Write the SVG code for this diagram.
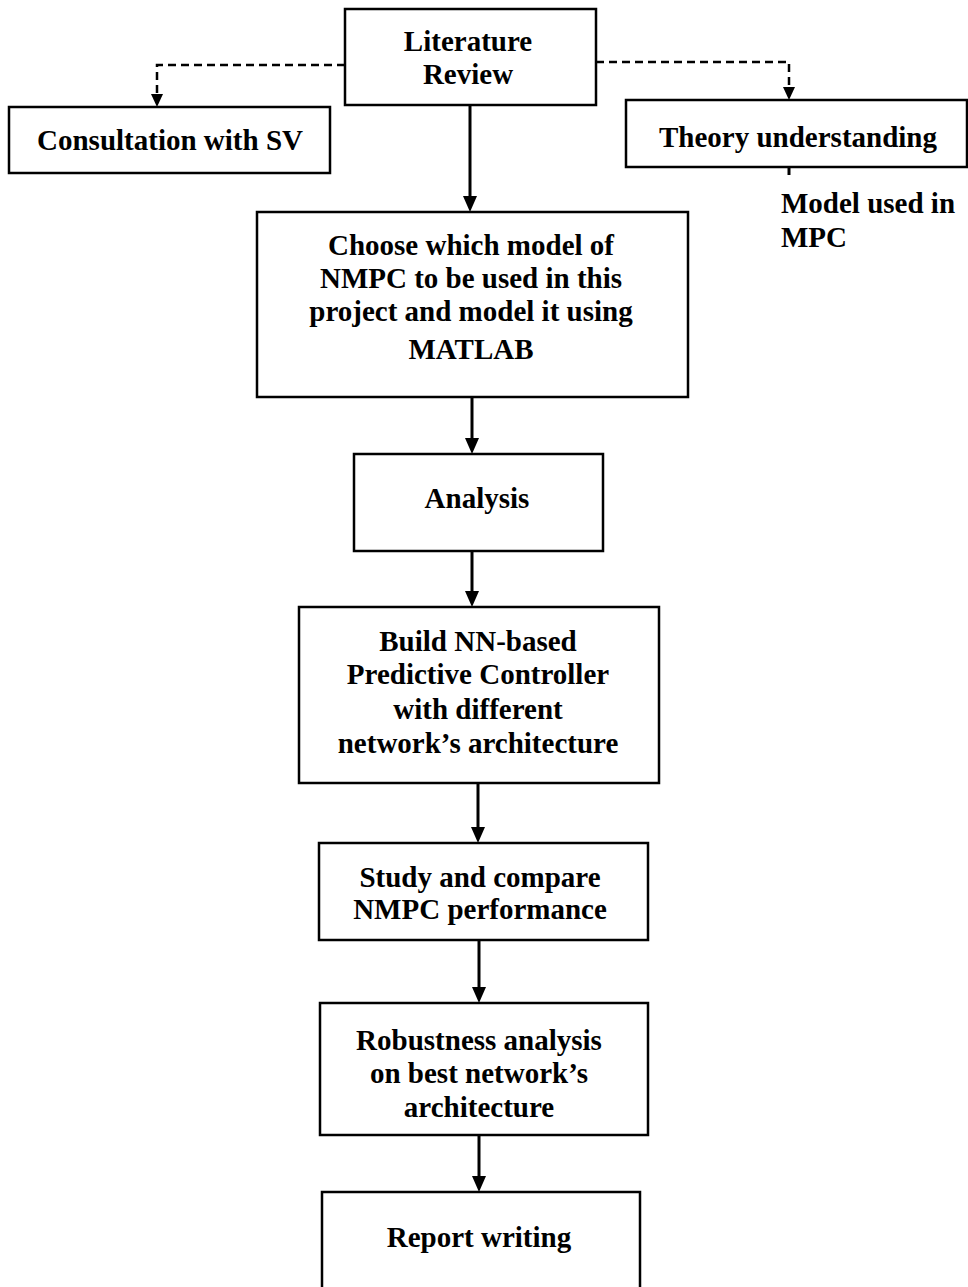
<svg xmlns="http://www.w3.org/2000/svg" width="968" height="1287" viewBox="0 0 968 1287">
<style>
.box{fill:#fff;stroke:#000;stroke-width:2.5}
.t{font-family:"Liberation Serif","Times New Roman",serif;font-weight:bold;font-size:29px;fill:#000;text-anchor:middle}
.tl{font-family:"Liberation Serif","Times New Roman",serif;font-weight:bold;font-size:29px;fill:#000}
.arr{stroke:#000;stroke-width:3;fill:none}
.dash{stroke:#000;stroke-width:2.5;fill:none;stroke-dasharray:8 5}
</style>
<rect width="968" height="1287" fill="#fff"/>
<g id="connectors">
<path class="dash" d="M345,65 H157 V95"/>
<path d="M151,94 L163,94 L157,107 Z" fill="#000"/>
<path class="dash" d="M596,62 H789 V88"/>
<path d="M783,87 L795,87 L789,100 Z" fill="#000"/>
<line class="arr" x1="789" y1="167" x2="789" y2="175"/>
<line class="arr" x1="470" y1="105" x2="470" y2="198"/>
<path d="M463,196 L477,196 L470,212 Z" fill="#000"/>
<line class="arr" x1="472" y1="397" x2="472" y2="440"/>
<path d="M465,438 L479,438 L472,454 Z" fill="#000"/>
<line class="arr" x1="472" y1="551" x2="472" y2="593"/>
<path d="M465,591 L479,591 L472,607 Z" fill="#000"/>
<line class="arr" x1="478" y1="783" x2="478" y2="829"/>
<path d="M471,827 L485,827 L478,843 Z" fill="#000"/>
<line class="arr" x1="479" y1="940" x2="479" y2="989"/>
<path d="M472,987 L486,987 L479,1003 Z" fill="#000"/>
<line class="arr" x1="479" y1="1135" x2="479" y2="1178"/>
<path d="M472,1176 L486,1176 L479,1192 Z" fill="#000"/>
</g>
<g id="literature">
<rect class="box" x="345" y="9" width="251" height="96"/>
<text class="t" x="468" y="51">Literature</text>
<text class="t" x="468" y="84">Review</text>
</g>
<g id="consultation">
<rect class="box" x="9" y="107" width="321" height="66"/>
<text class="t" x="170" y="150">Consultation with SV</text>
</g>
<g id="theory">
<rect class="box" x="626" y="100" width="341" height="67"/>
<text class="t" x="798" y="147">Theory understanding</text>
</g>
<g id="model-note">
<text class="tl" x="781" y="213">Model used in</text>
<text class="tl" x="781" y="247">MPC</text>
</g>
<g id="choose">
<rect class="box" x="257" y="212" width="431" height="185"/>
<text class="t" x="471" y="255">Choose which model of</text>
<text class="t" x="471" y="288">NMPC to be used in this</text>
<text class="t" x="471" y="321">project and model it using</text>
<text class="t" x="471" y="359">MATLAB</text>
</g>
<g id="analysis">
<rect class="box" x="354" y="454" width="249" height="97"/>
<text class="t" x="477" y="508">Analysis</text>
</g>
<g id="build">
<rect class="box" x="299" y="607" width="360" height="176"/>
<text class="t" x="478" y="651">Build NN-based</text>
<text class="t" x="478" y="684">Predictive Controller</text>
<text class="t" x="478" y="719">with different</text>
<text class="t" x="478" y="753">network’s architecture</text>
</g>
<g id="study">
<rect class="box" x="319" y="843" width="329" height="97"/>
<text class="t" x="480" y="887">Study and compare</text>
<text class="t" x="480" y="919">NMPC performance</text>
</g>
<g id="robustness">
<rect class="box" x="320" y="1003" width="328" height="132"/>
<text class="t" x="479" y="1050">Robustness analysis</text>
<text class="t" x="479" y="1083">on best network’s</text>
<text class="t" x="479" y="1117">architecture</text>
</g>
<g id="report">
<rect class="box" x="322" y="1192" width="318" height="110"/>
<text class="t" x="479" y="1247">Report writing</text>
</g>
</svg>
